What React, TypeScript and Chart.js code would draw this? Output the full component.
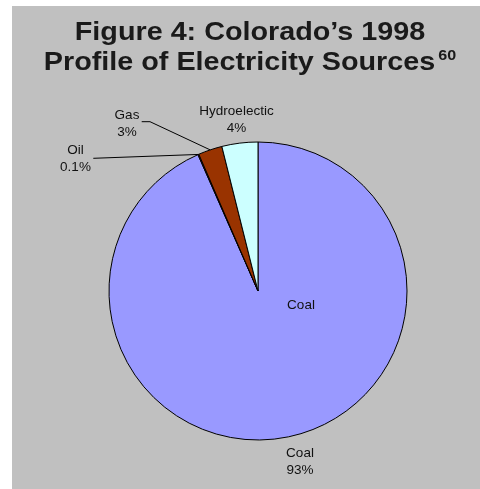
import React, { useEffect, useRef } from "react";
import { Chart, registerables } from "chart.js";

Chart.register(...registerables);

const categories = ["Coal", "Oil", "Gas", "Hydroelectic"];
const shares = [93.4, 0.1, 2.6, 3.9];
const shareLabels = ["93%", "0.1%", "3%", "4%"];
const sliceColors = ["#9999FF", "#993366", "#993300", "#CCFFFF"];
const titleLine1 = "Figure 4: Colorado\u2019s 1998";
const titleLine2 = "Profile of Electricity Sources";
const titleSup = "60";

const FONT = '"Liberation Sans", Arial, Helvetica, sans-serif';

const backgroundPlugin = {
  id: "bgBox",
  beforeDraw(chart: any) {
    const ctx = chart.ctx;
    ctx.save();
    ctx.fillStyle = "#ffffff";
    ctx.fillRect(0, 0, chart.width, chart.height);
    ctx.fillStyle = "#C0C0C0";
    ctx.fillRect(12, 6, chart.width - 12, chart.height - 6);
    ctx.restore();
  },
};

const titlePlugin = {
  id: "figTitle",
  afterDraw(chart: any) {
    const ctx = chart.ctx;
    const sx = 1.15;
    const cxT = 250;
    ctx.save();
    ctx.fillStyle = "#1a1a1a";
    ctx.textBaseline = "alphabetic";
    ctx.textAlign = "left";
    ctx.font = `bold 25px ${FONT}`;
    const w1 = ctx.measureText(titleLine1).width * sx;
    const w2 = ctx.measureText(titleLine2).width * sx;
    ctx.font = `bold 14px ${FONT}`;
    const ws = ctx.measureText(titleSup).width * sx;
    const gap = 3;
    // line 1
    ctx.save();
    ctx.translate(cxT - w1 / 2, 40);
    ctx.scale(sx, 1);
    ctx.font = `bold 25px ${FONT}`;
    ctx.fillText(titleLine1, 0, 0);
    ctx.restore();
    // line 2
    const total = w2 + gap + ws;
    const x2 = cxT - total / 2;
    ctx.save();
    ctx.translate(x2, 70);
    ctx.scale(sx, 1);
    ctx.font = `bold 25px ${FONT}`;
    ctx.fillText(titleLine2, 0, 0);
    ctx.restore();
    ctx.save();
    ctx.translate(x2 + w2 + gap, 60);
    ctx.scale(sx, 1);
    ctx.font = `bold 14px ${FONT}`;
    ctx.fillText(titleSup, 0, 0);
    ctx.restore();
    ctx.restore();
  },
};

const labelPlugin = {
  id: "sliceLabels",
  afterDatasetsDraw(chart: any) {
    const meta = chart.getDatasetMeta(0);
    const ctx = chart.ctx;
    const arcs = meta.data;
    if (!arcs.length) return;
    const cx = arcs[0].x;
    const cy = arcs[0].y;
    const mid = (i: number) => {
      const a: any = arcs[i];
      const ang = (a.startAngle + a.endAngle) / 2;
      return { x: a.x + Math.cos(ang) * a.outerRadius, y: a.y + Math.sin(ang) * a.outerRadius };
    };
    ctx.save();
    ctx.fillStyle = "#111";
    ctx.font = `13.5px ${FONT}`;
    ctx.textAlign = "center";
    ctx.textBaseline = "alphabetic";
    // label anchor offsets relative to pie centre (label layout, not data)
    const layout: Record<number, { dx: number; dy: number }> = {
      0: { dx: 42, dy: 166.3 },
      1: { dx: -182.5, dy: -137 },
      2: { dx: -131, dy: -171.7 },
      3: { dx: -21.5, dy: -176 },
    };
    categories.forEach((name, i) => {
      const p = layout[i];
      ctx.fillText(name, cx + p.dx, cy + p.dy);
      ctx.fillText(shareLabels[i], cx + p.dx, cy + p.dy + 16.7);
    });
    // inner category label
    ctx.fillText(categories[0], cx + 43, cy + 18.3);
    // leader lines
    ctx.strokeStyle = "#000";
    ctx.lineWidth = 1;
    const g = mid(2);
    ctx.beginPath();
    ctx.moveTo(cx - 116.3, cy - 169.3);
    ctx.lineTo(cx - 108, cy - 169.3);
    ctx.lineTo(g.x, g.y);
    ctx.stroke();
    const o = mid(1);
    ctx.beginPath();
    ctx.moveTo(cx - 164.7, cy - 132.7);
    ctx.lineTo(o.x, o.y);
    ctx.stroke();
    ctx.restore();
  },
};

export default function App() {
  const canvasRef = useRef<HTMLCanvasElement | null>(null);
  useEffect(() => {
    if (!canvasRef.current) return;
    const chart = new Chart(canvasRef.current, {
      type: "pie",
      data: {
        labels: categories,
        datasets: [
          {
            data: shares,
            backgroundColor: sliceColors,
            borderColor: "#000000",
            borderWidth: 1,
          },
        ],
      },
      options: {
        responsive: false,
        animation: false,
        radius: 149,
        layout: { padding: { left: 108, right: 72, top: 141, bottom: 48 } },
        plugins: {
          legend: { display: false },
          tooltip: { enabled: false },
          title: { display: false },
        },
      } as any,
      plugins: [backgroundPlugin, titlePlugin, labelPlugin],
    });
    return () => chart.destroy();
  }, []);
  return (
    <div style={{ position: "absolute", left: 0, top: 0, width: 480, height: 489 }}>
      <canvas ref={canvasRef} width={480} height={489} style={{ width: 480, height: 489 }} />
    </div>
  );
}
